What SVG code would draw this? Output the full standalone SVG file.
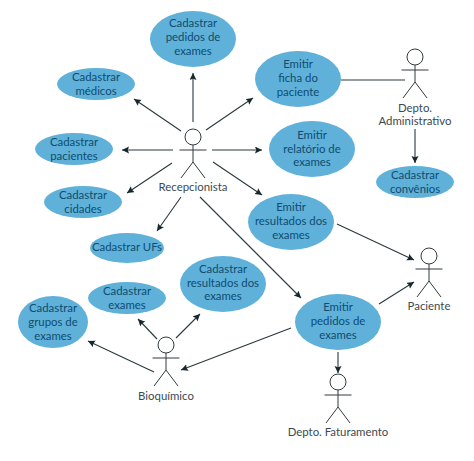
<svg xmlns="http://www.w3.org/2000/svg" width="474" height="461" viewBox="0 0 474 461">
<style>
.u{fill:#5fb1d9}
.t{font-family:"Lato","Open Sans",sans-serif;font-size:11.4px;fill:#0f4c70;text-anchor:middle}
.a{font-family:"Lato","Open Sans",sans-serif;font-size:11.4px;fill:#3b4a52;text-anchor:middle}
.s{fill:none;stroke:#333b3e;stroke-width:1}
.h{fill:#fff;stroke:#333b3e;stroke-width:1}
.c{fill:none;stroke:#2b383c;stroke-width:1.1}
.m{marker-end:url(#ar)}
</style>
<defs>
<marker id="ar" markerUnits="userSpaceOnUse" markerWidth="8" markerHeight="8" refX="7" refY="3.5" orient="auto"><path d="M0 0L7 3.5L0 7L1.2 3.5Z" fill="#16282e"/></marker>
<g id="stick"><circle class="h" cx="0" cy="0" r="8"/><path class="s" d="M-13.500 13H13.500M0 8V25M0 25L-12 41M0 25L12 41"/></g>
</defs>
<rect width="474" height="461" fill="#fff"/>
<g id="connectors">
<path class="c m" d="M193 122V73"/>
<path class="c m" d="M181 131L134 99"/>
<path class="c m" d="M173 150H122"/>
<path class="c m" d="M172 163L127 193"/>
<path class="c m" d="M181 197L157 231"/>
<path class="c m" d="M206 130L253 98"/>
<path class="c m" d="M212 150H262"/>
<path class="c m" d="M213 162L262 195"/>
<path class="c m" d="M200 197L301 298"/>
<path class="c" d="M341 80H405"/>
<path class="c m" d="M415 129V163"/>
<path class="c m" d="M337 224L414 260"/>
<path class="c m" d="M379 304L414 282"/>
<path class="c m" d="M338 352V373"/>
<path class="c m" d="M291 328L181 370"/>
<path class="c m" d="M157 339L138 319"/>
<path class="c m" d="M176 338L200 314"/>
<path class="c m" d="M154 372L88 341"/>
</g>
<g id="n-pedidos"><ellipse class="u" cx="193" cy="39" rx="43" ry="28"/><text class="t" x="193" y="27">Cadastrar</text><text class="t" x="193" y="41">pedidos de</text><text class="t" x="193" y="55">exames</text></g>
<g id="n-medicos"><ellipse class="u" cx="96" cy="84" rx="39" ry="16"/><text class="t" x="96" y="81">Cadastrar</text><text class="t" x="96" y="95">médicos</text></g>
<g id="n-pacientes"><ellipse class="u" cx="74" cy="149" rx="39" ry="16"/><text class="t" x="74" y="146">Cadastrar</text><text class="t" x="74" y="160">pacientes</text></g>
<g id="n-cidades"><ellipse class="u" cx="83" cy="202" rx="39" ry="16"/><text class="t" x="83" y="199">Cadastrar</text><text class="t" x="83" y="213">cidades</text></g>
<g id="n-ufs"><ellipse class="u" cx="127" cy="248" rx="37" ry="15"/><text class="t" x="127" y="251">Cadastrar UFs</text></g>
<g id="n-exames"><ellipse class="u" cx="127" cy="298" rx="39" ry="16"/><text class="t" x="127" y="295">Cadastrar</text><text class="t" x="127" y="309">exames</text></g>
<g id="n-grupos"><ellipse class="u" cx="53" cy="322" rx="35" ry="26"/><text class="t" x="53" y="312">Cadastrar</text><text class="t" x="53" y="326">grupos de</text><text class="t" x="53" y="340">exames</text></g>
<g id="n-cadres"><ellipse class="u" cx="223" cy="284" rx="43" ry="28"/><text class="t" x="223" y="273">Cadastrar</text><text class="t" x="223" y="287">resultados dos</text><text class="t" x="223" y="300">exames</text></g>
<g id="n-ficha"><ellipse class="u" cx="298" cy="79" rx="43" ry="28"/><text class="t" x="298" y="68">Emitir</text><text class="t" x="298" y="82">ficha do</text><text class="t" x="298" y="96">paciente</text></g>
<g id="n-relatorio"><ellipse class="u" cx="312" cy="149" rx="43" ry="28"/><text class="t" x="312" y="139">Emitir</text><text class="t" x="312" y="153">relatório de</text><text class="t" x="312" y="166">exames</text></g>
<g id="n-emres"><ellipse class="u" cx="291" cy="222" rx="43" ry="28"/><text class="t" x="291" y="211">Emitir</text><text class="t" x="291" y="225">resultados dos</text><text class="t" x="291" y="239">exames</text></g>
<g id="n-convenios"><ellipse class="u" cx="415" cy="182" rx="39" ry="16"/><text class="t" x="415" y="179">Cadastrar</text><text class="t" x="415" y="193">convênios</text></g>
<g id="n-empedidos"><ellipse class="u" cx="338" cy="322" rx="43" ry="28"/><text class="t" x="338" y="311">Emitir</text><text class="t" x="338" y="325">pedidos de</text><text class="t" x="338" y="339">exames</text></g>
<g id="a-recepcionista"><use href="#stick" x="193" y="137"/><text class="a" x="193" y="191">Recepcionista</text></g>
<g id="a-admin"><use href="#stick" x="415" y="57"/><text class="a" x="415" y="112">Depto.</text><text class="a" x="415" y="125">Administrativo</text></g>
<g id="a-paciente"><use href="#stick" x="429" y="256"/><text class="a" x="429" y="310">Paciente</text></g>
<g id="a-faturamento"><use href="#stick" x="338" y="382"/><text class="a" x="338" y="436">Depto. Faturamento</text></g>
<g id="a-bioquimico"><use href="#stick" x="166" y="345"/><text class="a" x="166" y="400">Bioquímico</text></g>
</svg>
